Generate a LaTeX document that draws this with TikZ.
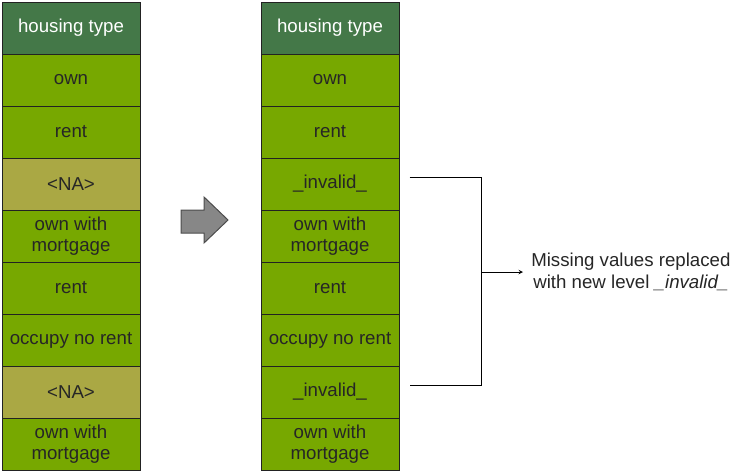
\documentclass[tikz,border=0pt]{standalone}
\usepackage{fontspec}
\setmainfont{Liberation Sans}
\usetikzlibrary{positioning}

\definecolor{headgreen}{RGB}{68,120,72}
\definecolor{cellgreen}{RGB}{119,168,0}
\definecolor{nagreen}{RGB}{170,168,68}
\definecolor{edgegray}{RGB}{34,34,34}

\tikzset{
    cell/.style={draw=edgegray, line width=0.75pt, fill=cellgreen, text=black!85,
        minimum width=103.5pt, minimum height=39pt, inner sep=0pt, outer sep=0pt,
        align=center, font=\fontsize{14}{16}\selectfont},
    headcell/.style={cell, fill=headgreen, text=white},
    nacell/.style={cell, fill=nagreen},
}

\begin{document}
\begin{tikzpicture}[x=0.75pt, y=-0.75pt]
        \useasboundingbox (0, 0) rectangle (743, 471);

        % original column
        \node[headcell, anchor=north] (lhead) at (71, 2) {housing type};
        \node[cell, below=0pt of lhead] (l1) {own};
        \node[cell, below=0pt of l1] (l2) {rent};
        \node[nacell, below=0pt of l2] (l3) {<NA>};
        \node[cell, below=0pt of l3] (l4) {own with\\mortgage};
        \node[cell, below=0pt of l4] (l5) {rent};
        \node[cell, below=0pt of l5] (l6) {occupy no rent};
        \node[nacell, below=0pt of l6] (l7) {<NA>};
        \node[cell, below=0pt of l7] (l8) {own with\\mortgage};

        % recoded column
        \node[headcell, anchor=north] (rhead) at (330, 2) {housing type};
        \node[cell, below=0pt of rhead] (r1) {own};
        \node[cell, below=0pt of r1] (r2) {rent};
        \node[cell, below=0pt of r2] (r3) {\_invalid\_};
        \node[cell, below=0pt of r3] (r4) {own with\\mortgage};
        \node[cell, below=0pt of r4] (r5) {rent};
        \node[cell, below=0pt of r5] (r6) {occupy no rent};
        \node[cell, below=0pt of r6] (r7) {\_invalid\_};
        \node[cell, below=0pt of r7] (r8) {own with\\mortgage};

        % block arrow between the columns
        \draw[draw=black!70, fill=black!47, line width=0.75pt]
            (181, 210) -- (204, 210) -- (204, 197) -- (228, 220) -- (204, 243)
            -- (204, 233) -- (181, 233) -- cycle;

        % bracket and note
        \node[align=center, anchor=west, inner sep=6pt, text=black!85,
            font=\fontsize{14}{16}\selectfont] (note) at (523, 272)
            {Missing values replaced\\with new level \textit{\_invalid\_}};
        \coordinate (btop) at ([xshift=8pt, yshift=5pt]r3.east);
        \coordinate (bbot) at ([xshift=8pt, yshift=5pt]r7.east);
        \coordinate (btopr) at ([xshift=62pt, yshift=5pt]r3.east);
        \coordinate (bbotr) at ([xshift=62pt, yshift=5pt]r7.east);
        \draw[line width=0.75pt] (btop) -- (btopr) -- (bbotr) -- (bbot);
        \draw[->, >=stealth, line width=0.5pt] (btopr |- note.west) -- (note.west);
    \end{tikzpicture}
\end{document}
